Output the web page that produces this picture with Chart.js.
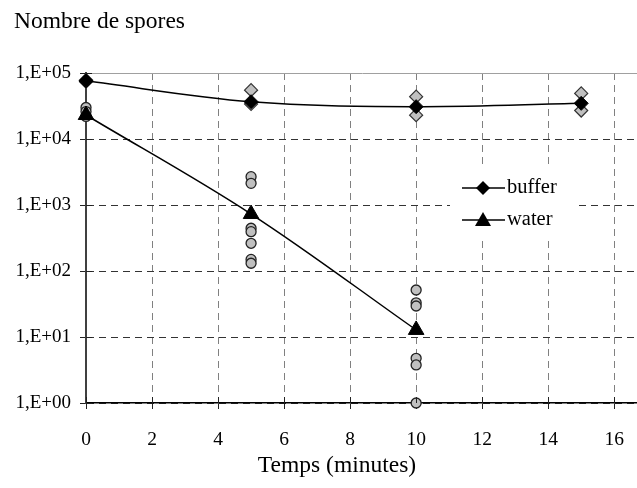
<!DOCTYPE html>
<html>
<head>
<meta charset="utf-8">
<script src="https://cdn.jsdelivr.net/npm/chart.js@4/dist/chart.umd.min.js"></script>
<style>
  html, body { margin: 0; padding: 0; background: #fff; overflow: hidden; }
  #wrap { position: relative; width: 637px; height: 488px; overflow: hidden; }
  #inner { position: absolute; left: 0; top: 0; width: 648px; height: 488px; }
</style>
</head>
<body>
<div id="wrap"><div id="inner"><canvas id="c"></canvas></div></div>
<script>
// spore counts over time, log scale; means drawn as lines, replicates as grey markers
const times = [0, 5, 10, 15];
const bufferMean = [76000, 36700, 30900, 34700];
const waterTimes = [0, 5, 10];
const waterMean = [23100, 730, 12.8];

const bufferRepX = [0, 0, 5, 5, 10, 10, 15, 15];
const bufferRepY = [78000, 74000, 55000, 34000, 43800, 23000, 49000, 27000];
const waterRepX = [0, 0, 0, 5, 5, 5, 5, 5, 5, 5, 10, 10, 10, 10, 10, 10];
const waterRepY = [30000, 26000, 22000, 2690, 2130, 444, 394, 263, 150, 131, 51.5, 33, 29.5, 4.75, 3.77, 1];

const xTicks = [0, 2, 4, 6, 8, 10, 12, 14, 16];
const yTicks = [1, 10, 100, 1000, 10000, 100000];

const FONT = "'Liberation Serif', 'Times New Roman', serif";
const pts = (xs, ys) => xs.map((x, i) => ({ x, y: ys[i] }));
const expLabel = v => "1,E+" + String(Math.round(Math.log10(v))).padStart(2, "0");

// titles, legend box and the inner half of the cross tick marks
const overlay = {
  id: "overlay",
  afterDatasetsDraw(chart) {
    const ctx = chart.ctx, area = chart.chartArea;
    const xs = chart.scales.x, ys = chart.scales.y;
    ctx.save();
    ctx.strokeStyle = "#222"; ctx.lineWidth = 1;
    ctx.beginPath();
    yTicks.forEach(v => { const y = Math.round(ys.getPixelForValue(v)) + 0.5; ctx.moveTo(area.left, y); ctx.lineTo(area.left + 6, y); });
    xTicks.forEach(v => { const x = Math.round(xs.getPixelForValue(v)) + 0.5; ctx.moveTo(x, area.bottom); ctx.lineTo(x, area.bottom - 6); });
    ctx.stroke();

    // legend
    ctx.fillStyle = "#fff";
    ctx.fillRect(450, 168, 128, 68);
    const items = [
      { label: "buffer", y: 188, shape: "diamond" },
      { label: "water", y: 220, shape: "triangle" },
    ];
    items.forEach(it => {
      ctx.strokeStyle = "#000"; ctx.lineWidth = 1.5;
      ctx.beginPath(); ctx.moveTo(462, it.y); ctx.lineTo(505, it.y); ctx.stroke();
      ctx.fillStyle = "#000";
      ctx.beginPath();
      if (it.shape === "diamond") {
        ctx.moveTo(483, it.y - 7); ctx.lineTo(490, it.y); ctx.lineTo(483, it.y + 7); ctx.lineTo(476, it.y);
      } else {
        ctx.moveTo(483, it.y - 8); ctx.lineTo(491, it.y + 6); ctx.lineTo(475, it.y + 6);
      }
      ctx.closePath(); ctx.fill();
      ctx.font = "20.5px " + FONT;
      ctx.textAlign = "left"; ctx.textBaseline = "middle";
      ctx.fillText(it.label, 507, it.y);
    });

    ctx.fillStyle = "#000";
    ctx.font = "23.5px " + FONT;
    ctx.textAlign = "left"; ctx.textBaseline = "middle";
    ctx.fillText("Nombre de spores", 14, 22);
    ctx.textAlign = "center";
    ctx.fillText("Temps (minutes)", 337, 466);
    ctx.restore();
  },
};

new Chart(document.getElementById("c"), {
  type: "line",
  data: {
    datasets: [
      { label: "buffer", data: pts(times, bufferMean), borderColor: "#000", borderWidth: 1.5, tension: 0.35,
        pointStyle: "rectRot", pointRadius: 7, pointBackgroundColor: "#000", pointBorderColor: "#000", pointBorderWidth: 1, clip: false },
      { label: "water", data: pts(waterTimes, waterMean), borderColor: "#000", borderWidth: 1.5, tension: 0.35,
        pointStyle: "triangle", pointRadius: 9, pointBackgroundColor: "#000", pointBorderColor: "#000", pointBorderWidth: 1, clip: false },
      { label: "buffer replicates", data: pts(bufferRepX, bufferRepY), showLine: false,
        pointStyle: "rectRot", pointRadius: 6.5, pointBackgroundColor: "#c0c0c0", pointBorderColor: "#333", pointBorderWidth: 1.2, clip: false },
      { label: "water replicates", data: pts(waterRepX, waterRepY), showLine: false,
        pointStyle: "circle", pointRadius: 5, pointBackgroundColor: "#c0c0c0", pointBorderColor: "#222", pointBorderWidth: 1.3, clip: false },
    ],
  },
  options: {
    responsive: true, maintainAspectRatio: false, animation: false,
    events: [],
    layout: { padding: { top: 73, right: 0, left: 0, bottom: 0 } },
    plugins: { legend: { display: false }, tooltip: { enabled: false } },
    scales: {
      x: {
        type: "linear", min: 0, max: 16.72,
        afterBuildTicks: s => { s.ticks = xTicks.map(v => ({ value: v })); },
        afterFit: s => { s.height = 85; },
        grid: { color: "#808080", lineWidth: 1, tickLength: 6, tickColor: "#222" },
        border: { color: "#000", width: 1.5, dash: [7, 5] },
        ticks: { color: "#000", font: { family: FONT, size: 19.5 }, padding: 19, maxRotation: 0 },
      },
      y: {
        type: "logarithmic", min: 1, max: 100000,
        afterBuildTicks: s => { s.ticks = yTicks.map(v => ({ value: v })); },
        afterFit: s => { s.width = 86; },
        grid: {
          color: c => (c.tick && c.tick.value === 100000 ? "#a0a0a0" : "#333"),
          lineWidth: 1, tickLength: 6, tickColor: "#222",
        },
        border: { color: "#404040", width: 2, dash: c => (c.tick && c.tick.value === 100000 ? [] : [7, 5]) },
        ticks: { color: "#000", font: { family: FONT, size: 19 }, padding: 9, callback: v => expLabel(v) },
      },
    },
  },
  plugins: [overlay],
});
</script>
</body>
</html>
